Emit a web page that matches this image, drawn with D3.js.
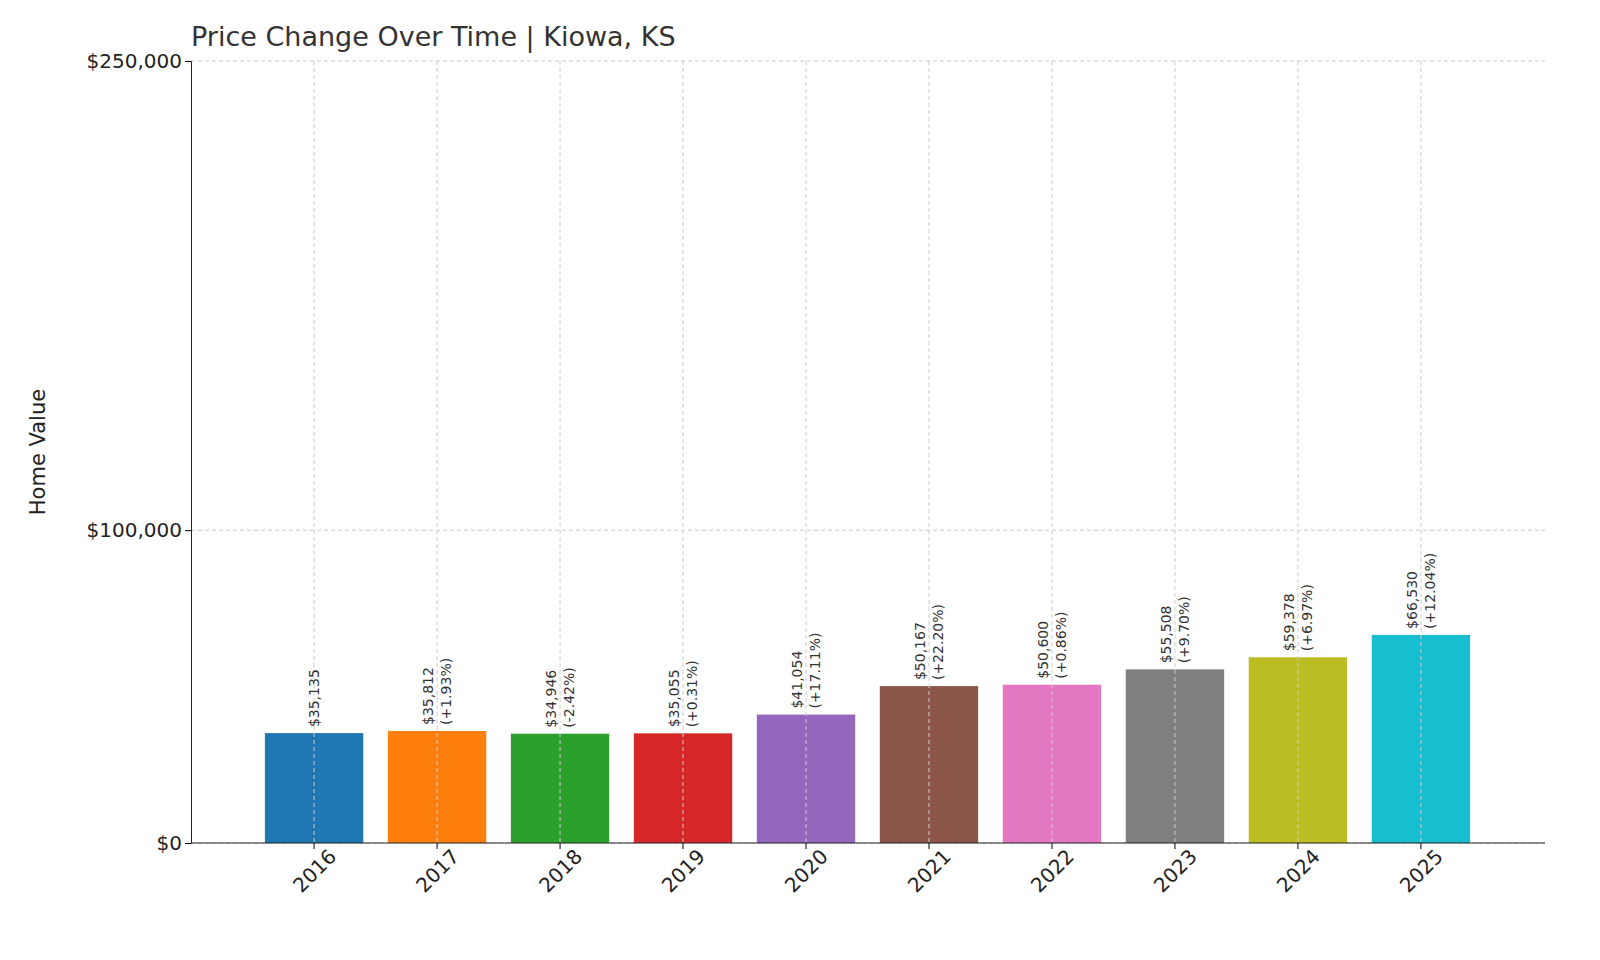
<!DOCTYPE html>
<html>
<head>
<meta charset="utf-8">
<script src="https://cdn.jsdelivr.net/npm/d3@7"></script>
<style>
  body { margin: 0; background: #fff; }
  text { font-family: "DejaVu Sans", sans-serif; }
</style>
</head>
<body>
<svg id="chart" width="1600" height="960"></svg>
<script>
var years = ["2016","2017","2018","2019","2020","2021","2022","2023","2024","2025"]
var values = [35135, 35812, 34946, 35055, 41054, 50167, 50600, 55508, 59378, 66530]
var changes = [null, "+1.93%", "-2.42%", "+0.31%", "+17.11%", "+22.20%", "+0.86%", "+9.70%", "+6.97%", "+12.04%"]
var yTicks = [0, 100000, 250000]
var colors = ["#1f77b4","#ff7f0e","#2ca02c","#d62728","#9467bd","#8c564b","#e377c2","#7f7f7f","#bcbd22","#17becf"]

var padL = 191, padR = 1545, padT = 61, padB = 843
var svg = d3.select("#chart")

var x = d3.scaleBand().domain(years).range([240.3, 1494.7]).padding(0.2)
var y = d3.scaleLinear().domain([0, 250000]).range([padB, padT])

// grid
svg.append("g").selectAll("line").data(yTicks).enter().append("line")
  .attr("x1", padL).attr("x2", padR)
  .attr("y1", function(d){ return y(d) }).attr("y2", function(d){ return y(d) })
  .attr("stroke", "#ccc").attr("stroke-dasharray", "4,3")

// bars
svg.append("g").selectAll("rect").data(values).enter().append("rect")
  .attr("x", function(d, i){ return x(years[i]) })
  .attr("width", x.bandwidth())
  .attr("y", function(d){ return y(d) })
  .attr("height", function(d){ return padB - y(d) })
  .attr("fill", function(d, i){ return colors[i] })

svg.append("g").selectAll("line").data(years).enter().append("line")
  .attr("x1", function(d){ return x(d) + x.bandwidth()/2 })
  .attr("x2", function(d){ return x(d) + x.bandwidth()/2 })
  .attr("y1", padT).attr("y2", padB)
  .attr("stroke", "#ccc").attr("stroke-dasharray", "4,3")

// labels
var fmt = d3.format(",")
values.forEach(function(v, i){
  var cx = x(years[i]) + x.bandwidth()/2
  var ty = y(v) - 6
  var t = svg.append("text")
    .attr("transform", "translate(" + cx + "," + ty + ") rotate(-90)")
    .attr("font-size", 14).attr("fill", "#333")
  if (changes[i] === null) {
    t.append("tspan").attr("x", 0).attr("y", 5).text("$" + fmt(v))
  } else {
    t.append("tspan").attr("x", 0).attr("y", -4).text("$" + fmt(v))
    t.append("tspan").attr("x", 0).attr("y", 14).text("(" + changes[i] + ")")
  }
})

// axes
var yAxis = d3.axisLeft(y).tickValues(yTicks).tickFormat(function(d){ return "$" + fmt(d) }).tickSize(6)
var gy = svg.append("g").attr("transform", "translate(" + padL + ",0)").call(yAxis)
gy.selectAll("text").attr("font-size", 20).attr("fill", "#222").attr("font-family", "DejaVu Sans")
gy.select(".domain").attr("stroke", "#222")

var xAxis = d3.axisBottom(x).tickSize(6)
var gx = svg.append("g").attr("transform", "translate(0," + padB + ")").call(xAxis)
gx.select(".domain").attr("d", "M" + padL + ",0H" + padR).attr("stroke", "#222")
gx.selectAll("text").attr("font-size", 20).attr("fill", "#222").attr("font-family", "DejaVu Sans")
  .attr("text-anchor", "end").attr("dx", "0.3em").attr("dy", "0.9em")
  .attr("transform", "rotate(-45)")

svg.append("text").attr("x", padL).attr("y", 46).attr("font-size", 27).attr("fill", "#333")
  .text("Price Change Over Time | Kiowa, KS")

svg.append("text").attr("transform", "translate(45," + ((padT+padB)/2) + ") rotate(-90)")
  .attr("text-anchor", "middle").attr("font-size", 21).attr("fill", "#222").text("Home Value")
</script>
</body>
</html>
